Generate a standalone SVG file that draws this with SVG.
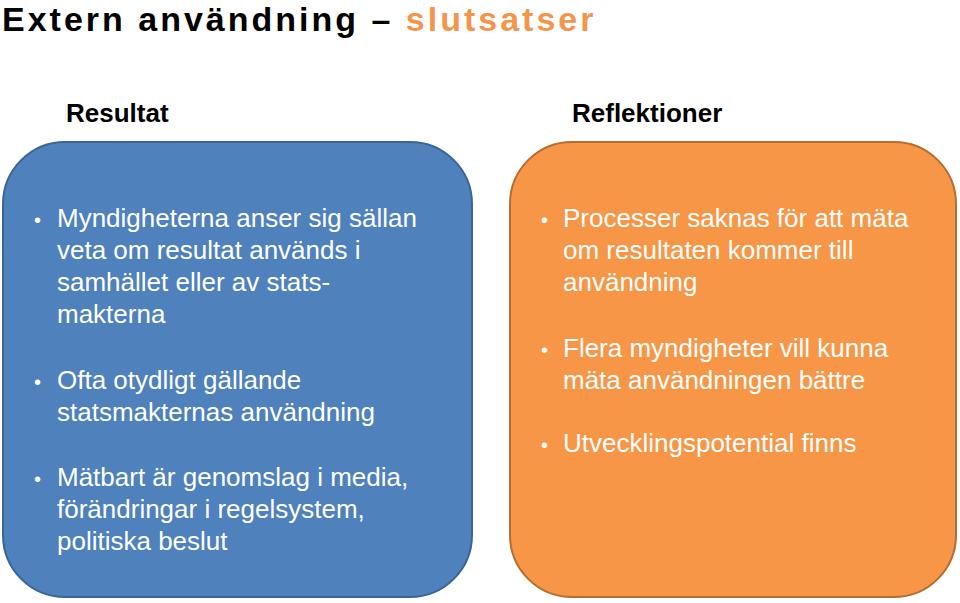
<svg xmlns="http://www.w3.org/2000/svg" width="960" height="603" viewBox="0 0 960 603">
<style>
.t{font-family:"Liberation Sans",Arial,sans-serif;font-size:26px;fill:#fff}
.h{font-family:"Liberation Sans",Arial,sans-serif;font-size:26px;font-weight:bold;fill:#000}
.b{font-family:"Liberation Sans",Arial,sans-serif;font-size:20px;fill:#fff}
</style>
<rect width="960" height="603" fill="#fff"/>
<text x="2" y="31" font-family="Liberation Sans,Arial,sans-serif" font-size="34" font-weight="bold" letter-spacing="3" fill="#000">Extern användning – <tspan fill="#f3954a">slutsatser</tspan></text>
<text class="h" x="66" y="122">Resultat</text>
<text class="h" x="572" y="122">Reflektioner</text>
<g id="resultat">
<rect x="3" y="142" width="469" height="455" rx="62" fill="#4f81bd" stroke="#3a6595" stroke-width="2"/>
<text class="b" x="34" y="227">•</text>
<text class="t" x="57" y="227">Myndigheterna anser sig sällan</text>
<text class="t" x="57" y="259">veta om resultat används i</text>
<text class="t" x="57" y="291">samhället eller av stats-</text>
<text class="t" x="57" y="323">makterna</text>
<text class="b" x="34" y="389">•</text>
<text class="t" x="57" y="389">Ofta otydligt gällande</text>
<text class="t" x="57" y="421">statsmakternas användning</text>
<text class="b" x="34" y="486">•</text>
<text class="t" x="57" y="486">Mätbart är genomslag i media,</text>
<text class="t" x="57" y="518">förändringar i regelsystem,</text>
<text class="t" x="57" y="550">politiska beslut</text>
</g>
<g id="reflektioner">
<rect x="510" y="142" width="446" height="455" rx="62" fill="#f79646" stroke="#b66d31" stroke-width="2"/>
<text class="b" x="541" y="227">•</text>
<text class="t" x="563" y="227">Processer saknas för att mäta</text>
<text class="t" x="563" y="259">om resultaten kommer till</text>
<text class="t" x="563" y="291">användning</text>
<text class="b" x="541" y="357">•</text>
<text class="t" x="563" y="357">Flera myndigheter vill kunna</text>
<text class="t" x="563" y="389">mäta användningen bättre</text>
<text class="b" x="541" y="452">•</text>
<text class="t" x="563" y="452">Utvecklingspotential finns</text>
</g>
<g id="connectors"/>
</svg>
